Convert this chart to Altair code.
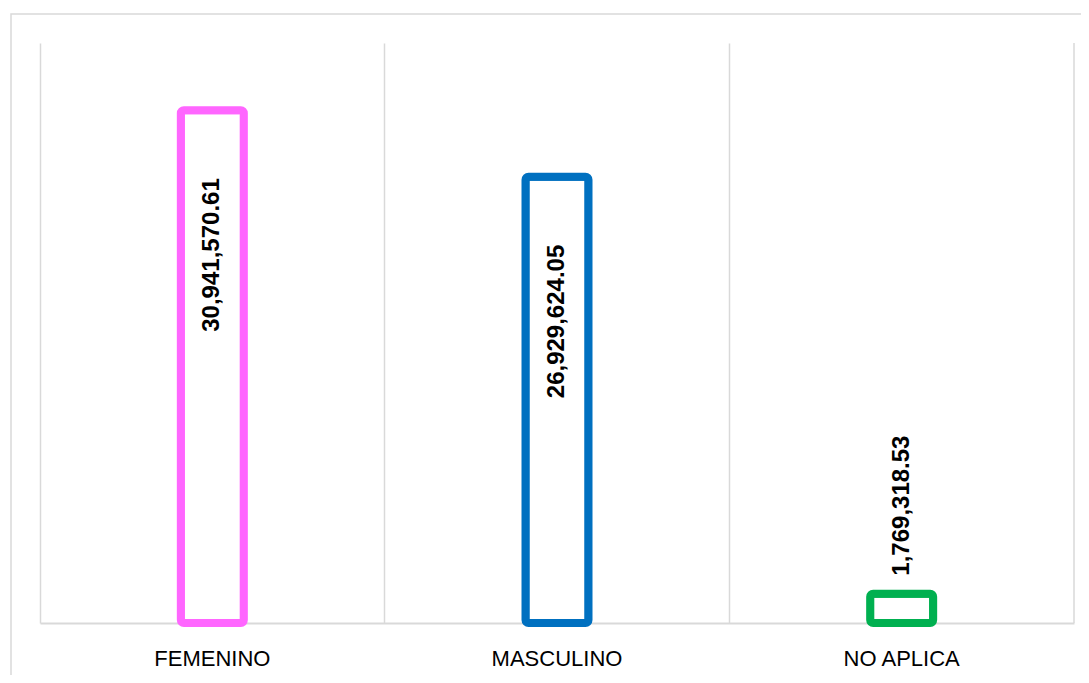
import altair as alt
import pandas as pd

categories = ["FEMENINO", "MASCULINO", "NO APLICA"]
values = [30941570.61, 26929624.05, 1769318.53]
colors = ["#FF66FF", "#0070C0", "#00B050"]

df = pd.DataFrame({"cat": categories, "value": values})
one = pd.DataFrame({"a": [0]})

W, H = 1034, 580
GRAY = "#d9d9d9"

x_enc = alt.X(
    "cat:N",
    sort=categories,
    scale=alt.Scale(paddingInner=0, paddingOuter=0),
    axis=alt.Axis(
        title=None,
        labelAngle=0,
        ticks=False,
        labelPadding=25,
        labelFont="Liberation Sans",
        labelFontSize=22,
        labelColor="#000000",
        domainColor=GRAY,
        domainWidth=2,
        grid=True,
        gridColor=GRAY,
        gridWidth=1.5,
        bandPosition=0,
    ),
)
y_enc = alt.Y("value:Q", scale=alt.Scale(domain=[0, 35000000], nice=False), axis=None)

border = alt.Chart(one).mark_rect(
    fill="transparent", stroke=GRAY, strokeWidth=1.5
).encode(
    x=alt.value(-29), x2=alt.value(W + 80), y=alt.value(-29), y2=alt.value(H + 80)
)

right_rule = alt.Chart(one).mark_rule(color=GRAY, strokeWidth=1.5).encode(
    x=alt.value(W), y=alt.value(0), y2=alt.value(H)
)

bars = alt.Chart(df).mark_bar(
    fill="white", strokeWidth=8, cornerRadius=3, width=63
).encode(
    x=x_enc,
    y=y_enc,
    stroke=alt.Stroke("cat:N", scale=alt.Scale(domain=categories, range=colors), legend=None),
)

text_common = dict(
    angle=270,
    baseline="middle",
    font="Liberation Sans",
    fontSize=24,
    fontWeight="bold",
    color="#000000",
)

inside = alt.Chart(df).transform_filter("datum.value > 5000000").mark_text(
    align="right", dx=-68, **text_common
).encode(x=alt.X("cat:N", sort=categories), y="value:Q", text=alt.Text("value:Q", format=",.2f"))

outside = alt.Chart(df).transform_filter("datum.value <= 5000000").mark_text(
    align="left", dx=18, **text_common
).encode(x=alt.X("cat:N", sort=categories), y="value:Q", text=alt.Text("value:Q", format=",.2f"))

chart = alt.layer(border, right_rule, bars, inside, outside).properties(
    width=W,
    height=H,
    autosize=alt.AutoSizeParams(type="none"),
    padding={"left": 32, "top": 35, "right": 7, "bottom": 52},
    background="white",
).configure_view(stroke=None)

chart.save("out.html", embed_options={"renderer": "svg", "actions": False})
